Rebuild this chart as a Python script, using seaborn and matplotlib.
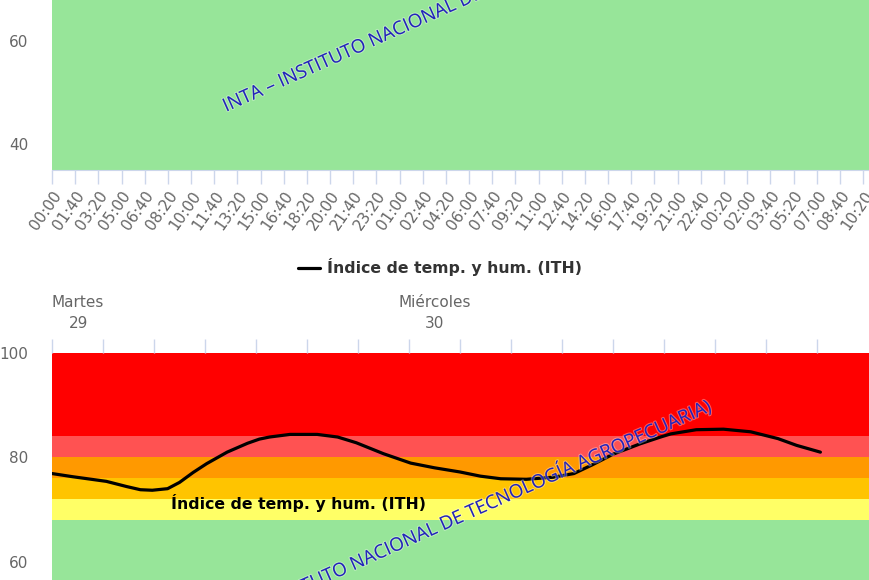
import numpy as np
import pandas as pd
import matplotlib
matplotlib.use('Agg')
import matplotlib.pyplot as plt
import matplotlib.patheffects as pe
from matplotlib.lines import Line2D
import seaborn as sns

# --- datos del gráfico superior (eje de tiempo cada 100 minutos) ---
top_tick_labels = ['00:00', '01:40', '03:20', '05:00', '06:40', '08:20', '10:00', '11:40',
                   '13:20', '15:00', '16:40', '18:20', '20:00', '21:40', '23:20', '01:00',
                   '02:40', '04:20', '06:00', '07:40', '09:20', '11:00', '12:40', '14:20',
                   '16:00', '17:40', '19:20', '21:00', '22:40', '00:20', '02:00', '03:40',
                   '05:20', '07:00', '08:40', '10:20']
top_ylim = (35, 68)
top_yticks = [40, 60]

# --- datos del gráfico inferior (ITH), horas desde Martes 00:00 ---
ith_hours = [1.5, 2.7, 4.7, 5.9, 6.7, 7.4, 8.3, 9.0, 9.8, 10.6, 11.8, 13.0, 13.7, 14.3,
             15.5, 17.1, 18.3, 19.4, 21.0, 22.6, 24.0, 25.5, 26.7, 27.9, 29.4, 31.0, 32.2,
             33.3, 34.5, 36.1, 37.3, 37.9, 39.4, 41.0, 42.6, 44.2, 45.3, 46.7]
ith_values = [76.9, 76.3, 75.4, 74.4, 73.8, 73.7, 74.0, 75.2, 77.1, 78.8, 81.0, 82.7, 83.5,
              83.9, 84.4, 84.4, 83.9, 82.8, 80.7, 78.9, 78.0, 77.2, 76.4, 75.9, 75.8, 76.2,
              76.9, 78.6, 80.6, 82.6, 83.9, 84.5, 85.3, 85.4, 84.9, 83.6, 82.3, 81.0]
band_edges = [100, 84, 80, 76, 72, 68, 0]
band_colors = ['#ff0000', '#ff5252', '#ff9900', '#ffc400', '#ffff66', '#97e599']
day_labels = ['Martes\n29', 'Miércoles\n30']
day_hours = [0, 24]
bottom_yticks = [60, 80, 100]
series_name = 'Índice de temp. y hum. (ITH)'
watermark = 'INTA – INSTITUTO NACIONAL DE TECNOLOGÍA AGROPECUARIA)'

sns.set_style('white')
plt.rcParams['font.family'] = ['DejaVu Sans']

W, H = 870, 580
fig = plt.figure(figsize=(W / 100, H / 100), dpi=100)
grey = '#666666'
tickc = '#ccd6eb'

# gráfico superior
ax1 = fig.add_axes([52 / W, 1 - 170 / H, 818 / W, 170 / H])
ax1.axhspan(0, 100, color='#97e599', zorder=0)
ax1.set_ylim(*top_ylim)
step = 100
xt = np.arange(len(top_tick_labels)) * step
ax1.set_xlim(0, xt[-1] + 30)
ax1.set_xticks(xt)
ax1.set_xticklabels(top_tick_labels, rotation=55, ha='right', rotation_mode='anchor',
                    color=grey, fontsize=11)
ax1.set_yticks(top_yticks)
ax1.set_yticklabels([str(v) for v in top_yticks], color=grey, fontsize=11)
ax1.tick_params(axis='x', length=10, width=1, color=tickc, pad=3, bottom=True)
ax1.tick_params(axis='y', length=0, pad=17)
for s in ['top', 'left', 'right']:
    ax1.spines[s].set_visible(False)
ax1.spines['bottom'].set_color(tickc)

# gráfico inferior
ax2 = fig.add_axes([52 / W, 0, 818 / W, (H - 353) / H])
for top, bot, c in zip(band_edges[:-1], band_edges[1:], band_colors):
    ax2.axhspan(bot, top, color=c, lw=0, zorder=0)
df = pd.DataFrame({'hora': ith_hours, 'ith': ith_values})
sns.lineplot(data=df, x='hora', y='ith', color='black', lw=2.3, ax=ax2, zorder=3)
ax2.lines[-1].set_solid_joinstyle('round')
ax2.set_xlim(1.5, 1.5 + 818 / 17)
ax2.set_ylim(56.5, 100)
ax2.set_xlabel('')
ax2.set_ylabel('')
ax2.xaxis.tick_top()
ax2.set_xticks(np.arange(1.5, 47, 3))
ax2.set_xticklabels([])
ax2.tick_params(axis='x', length=10, width=1, color=tickc, top=True, bottom=False)
ax2.set_yticks(bottom_yticks)
ax2.set_yticklabels([str(v) for v in bottom_yticks], color=grey, fontsize=11)
ax2.tick_params(axis='y', length=0, pad=17)
for s in ax2.spines.values():
    s.set_visible(False)

x0 = ax2.get_xlim()[0]
for lab, h in zip(day_labels, day_hours):
    if h < x0:
        ax2.annotate(lab, xy=(x0, 1), xycoords=('data', 'axes fraction'), xytext=(0, 16),
                     textcoords='offset points', ha='left', va='bottom', color=grey,
                     fontsize=11, multialignment='center', linespacing=1.45)
    else:
        ax2.annotate(lab, xy=(h, 1), xycoords=('data', 'axes fraction'), xytext=(0, 16),
                     textcoords='offset points', ha='center', va='bottom', color=grey,
                     fontsize=11, multialignment='center', linespacing=1.45)

ax2.text(8.5, 71.2, series_name, fontsize=11.3, fontweight='bold', color='black',
         ha='left', va='center', zorder=4)

# leyenda central
h = Line2D([], [], color='black', lw=2.3)
fig.legend([h], [series_name], loc='center', bbox_to_anchor=(440 / W, 1 - 267 / H),
           frameon=False, handlelength=1.4, handletextpad=0.5,
           prop={'weight': 'bold', 'size': 11.3}, labelcolor='#333333')

# marcas de agua
fx = dict(path_effects=[pe.withStroke(linewidth=1.5, foreground='white', alpha=0.35)])
fig.text(226 / W, 1 - 112 / H, watermark, rotation=24, rotation_mode='anchor',
         ha='left', va='baseline', color='#2222bb', fontsize=13.5, family='Open Sans', **fx)
fig.text(714 / W, 1 - 410 / H, watermark, rotation=24, rotation_mode='anchor',
         ha='right', va='baseline', color='#2222bb', fontsize=13.5, family='Open Sans',
         zorder=5, **fx)

fig.savefig('out.png', dpi=100)
